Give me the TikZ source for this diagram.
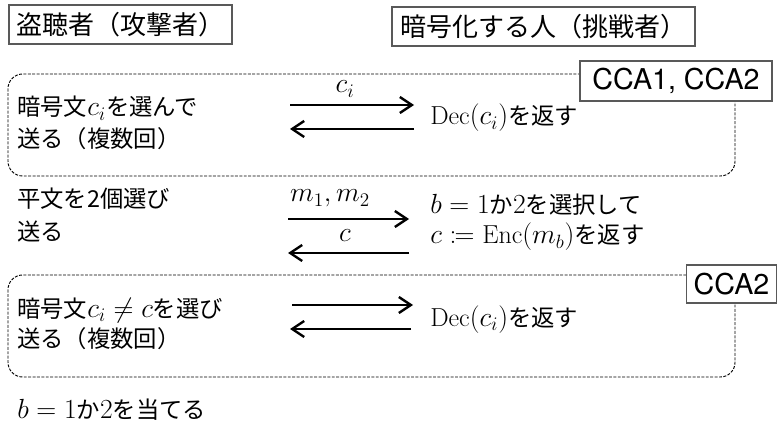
\documentclass[tikz,border=0pt]{standalone}
\usepackage{mathtools}
\usepackage{fontspec}
\newfontfamily\jpfont{Noto Sans CJK JP}
\newfontfamily\ccafont{TeX Gyre Heros}
\usetikzlibrary{arrows.meta}
\newcommand\mth[1]{{\fontsize{19.5}{23}\selectfont$#1$}}

\tikzset{
  titlebox/.style={draw=black!65, line width=1.1pt, inner sep=2pt, font=\jpfont\fontsize{19.5}{23}\selectfont},
  ccabox/.style={draw=black!65, line width=0.8pt, fill=white, inner sep=2pt, font=\ccafont\fontsize{21.5}{25}\selectfont},
  groupbox/.style={draw=black, line width=0.7pt, dash pattern=on 2.2pt off 1.1pt, rounded corners=11pt},
  txt/.style={anchor=base west, inner sep=0pt, font=\jpfont\fontsize{17.5}{21}\selectfont},
  lbl/.style={anchor=base, inner sep=0pt, font=\fontsize{19.5}{23}\selectfont},
  msg/.style={line width=1.8pt, -{Straight Barb[length=9pt,width=12pt]}},
}

\begin{document}
\begin{tikzpicture}[x=0.75pt, y=-0.75pt]
\useasboundingbox (0,0) rectangle (780,423);

% the two parties
\node[titlebox, minimum width=167pt, minimum height=29pt] (attacker) at (120.5,24.5) {盗聴者（攻撃者）};
\node[titlebox, minimum width=227pt, minimum height=29pt] (challenger) at (543.5,26.5) {暗号化する人（挑戦者）};

% decryption query phases
\draw[groupbox] (8,74) rectangle (735,176);
\draw[groupbox] (8,275) rectangle (735,377);
\node[ccabox, minimum width=144pt, minimum height=30pt] (cca12) at (676,81) {CCA1, CCA2};
\node[ccabox, minimum width=68pt, minimum height=28.5pt] (cca2) at (731.5,284) {CCA2};

% first queries
\node[txt] (query1a) at (17,116) {暗号文\mth{c_i}を選んで};
\node[txt] (query1b) at (17,148) {送る（複数回）};
\coordinate (q1s) at (290,105);
\coordinate (q1e) at (414,105);
\coordinate (q1r) at (414,129);
\coordinate (q1t) at (290,129);
\draw[msg] (q1s) -- (q1e);
\draw[msg] (q1r) -- (q1t);
\node[lbl] (ci) at (345,93) {$c_i$};
\node[txt] (dec1) at (430,125) {\mth{\mathrm{Dec}(c_i)}を返す};

% challenge
\node[txt] (plain1) at (17,208) {平文を2個選び};
\node[txt] (plain2) at (17,241) {送る};
\coordinate (ch1s) at (288,219);
\coordinate (ch1e) at (409,219);
\coordinate (ch2s) at (409,253);
\coordinate (ch2e) at (288,253);
\draw[msg] (ch1s) -- (ch1e);
\draw[msg] (ch2s) -- (ch2e);
\node[lbl] (mm) at (330,202) {$m_1, m_2$};
\node[lbl] (cc) at (345,242) {$c$};
\node[txt] (select) at (430,214) {\mth{b=1}か\mth{2}を選択して};
\node[txt] (encrypt) at (430,244) {\mth{c \coloneqq \mathrm{Enc}(m_b)}を返す};

% second queries
\node[txt] (query2a) at (17,317) {暗号文\mth{c_i \neq c}を選び};
\node[txt] (query2b) at (17,347) {送る（複数回）};
\coordinate (q2s) at (292,305);
\coordinate (q2e) at (413,305);
\coordinate (q2r) at (411,329);
\coordinate (q2t) at (290,329);
\draw[msg] (q2s) -- (q2e);
\draw[msg] (q2r) -- (q2t);
\node[txt] (dec2) at (430,326) {\mth{\mathrm{Dec}(c_i)}を返す};

% guess
\node[txt] (guess) at (17,418) {\mth{b=1}か\mth{2}を当てる};
\end{tikzpicture}
\end{document}
